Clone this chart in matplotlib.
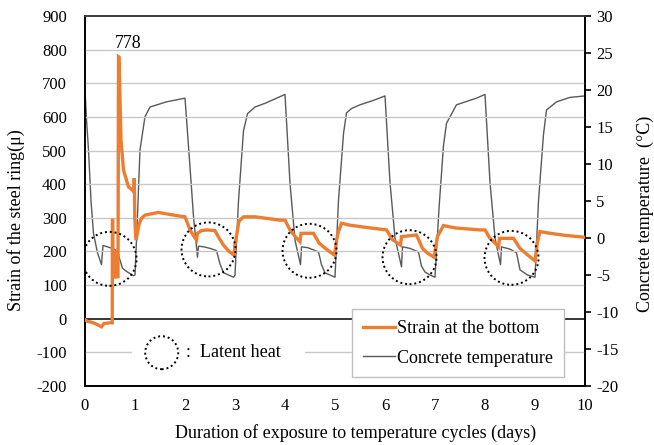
import matplotlib
matplotlib.use("Agg")
import matplotlib.pyplot as plt
from matplotlib.patches import Ellipse, Rectangle
from matplotlib.lines import Line2D

plt.rcParams['font.family'] = ['Liberation Serif', 'DejaVu Serif']
plt.rcParams['axes.unicode_minus'] = False

# ---- data ----
strain_days = [0.00, 0.05, 0.12, 0.20, 0.28, 0.33, 0.38, 0.45, 0.53, 0.545, 0.548, 0.555, 0.56,
               0.60, 0.61, 0.615, 0.66, 0.67, 0.68, 0.72, 0.77, 0.87, 0.98, 0.985, 0.995, 1.02,
               1.08, 1.13, 1.20, 1.33, 1.47, 1.70, 1.90, 2.00, 2.10, 2.18, 2.23, 2.25, 2.33, 2.45,
               2.60, 2.68, 2.77, 2.88, 2.98, 3.00, 3.08, 3.17, 3.40, 3.70, 3.90, 4.00, 4.10, 4.20,
               4.30, 4.32, 4.57, 4.68, 4.80, 4.99, 5.05, 5.13, 5.30, 5.60, 6.03, 6.15, 6.31, 6.33,
               6.63, 6.75, 6.85, 6.98, 7.05, 7.17, 7.40, 7.90, 8.00, 8.10, 8.20, 8.27, 8.29, 8.57,
               8.70, 8.85, 9.00, 9.05, 9.10, 9.30, 9.60, 10.0]
strain_vals = [-3, -8, -10, -14, -20, -24, -14, -13, -12, -12, 293, 293, 125,
               125, 200, 125, 125, 779, 778, 531, 442, 392, 378, 418, 300, 234,
               280, 299, 308, 312, 316, 310, 305, 303, 264, 245, 234, 254, 262, 264,
               262, 240, 219, 200, 189, 220, 290, 303, 303, 297, 293, 293, 264, 245,
               229, 254, 254, 225, 210, 189, 250, 284, 278, 272, 264, 235, 219, 244,
               249, 209, 195, 183, 245, 277, 270, 264, 264, 239, 225, 214, 239, 239,
               209, 190, 172, 230, 259, 254, 248, 242]

temp_days = [0.00, 0.03, 0.07, 0.12, 0.17, 0.25, 0.33, 0.36, 0.45, 0.55, 0.65, 0.70, 0.75, 0.85,
             0.97, 1.00, 1.05, 1.10, 1.20, 1.30, 1.63, 2.00, 2.10, 2.17, 2.25, 2.27, 2.38, 2.50,
             2.63, 2.70, 2.77, 2.87, 2.97, 3.00, 3.07, 3.17, 3.25, 3.40, 3.60, 3.80, 4.00, 4.10,
             4.20, 4.31, 4.33, 4.45, 4.57, 4.67, 4.73, 4.80, 4.90, 5.00, 5.07, 5.17, 5.23, 5.33,
             5.50, 5.77, 6.00, 6.10, 6.20, 6.33, 6.35, 6.50, 6.67, 6.73, 6.80, 6.90, 7.00, 7.08,
             7.17, 7.23, 7.43, 7.83, 8.00, 8.10, 8.20, 8.31, 8.33, 8.50, 8.63, 8.70, 8.85, 9.00,
             9.07, 9.17, 9.23, 9.43, 9.70, 10.0]
temp_vals = [20.0, 16.0, 11.9, 5.0, 0.6, -2.0, -3.6, -1.0, -1.2, -1.4, -1.8, -3.0, -4.1, -4.6,
             -5.1, -5.0, 3.0, 11.9, 16.4, 17.7, 18.4, 18.9, 9.6, 2.9, -2.6, -1.1, -1.2, -1.4,
             -1.7, -3.5, -4.7, -5.0, -5.3, -5.0, 5.0, 14.5, 16.8, 17.7, 18.2, 18.8, 19.4, 7.4,
             -0.3, -3.6, -1.2, -1.3, -1.6, -1.9, -3.6, -4.7, -5.0, -5.3, 5.1, 14.1, 16.9, 17.5,
             18.0, 18.6, 19.2, 7.5, 0.0, -3.9, -1.2, -1.4, -1.9, -3.8, -4.6, -5.0, -5.3, 4.0,
             12.5, 15.5, 18.0, 18.9, 19.4, 7.5, 0.0, -3.6, -1.2, -1.5, -2.0, -4.3, -5.0, -5.3,
             5.0, 14.0, 17.3, 18.4, 19.0, 19.2]

circle_days = [0.49, 2.47, 4.49, 6.49, 8.53]
circle_strain = [178, 206, 202, 183, 181]

peak_label = "778"
x_ticks = list(range(0, 11))
left_ticks = list(range(-200, 901, 100))
right_ticks = list(range(-20, 31, 5))

orange = '#ED7D31'
gray = '#595959'

fig = plt.figure(figsize=(6.54, 4.45), dpi=100)
ax = fig.add_axes([85/654, 1-386/445, 500/654, 370/445])
ax2 = ax.twinx()

ax.set_xlim(0, 10)
ax.set_ylim(-200, 900)
ax2.set_ylim(-20, 30)
ax.set_xticks(x_ticks)
ax.set_yticks(left_ticks)
ax2.set_yticks(right_ticks)

for y in left_ticks:
    if y == 0:
        ax.axhline(y, color='black', lw=1.1, zorder=1)
    elif y not in (-200, 900):
        ax.axhline(y, color='#c8c8c8', lw=1.0, zorder=0.5)

ax2.plot(temp_days, temp_vals, color=gray, lw=1.0, zorder=2)
ax.plot(strain_days, strain_vals, color=orange, lw=2.4, zorder=3, solid_joinstyle='miter')

ax.set_zorder(ax2.get_zorder() + 1)
ax.patch.set_visible(False)

for cd, cs in zip(circle_days, circle_strain):
    e = Ellipse((cd, cs), width=54/50, height=54/(370/1100), fill=False,
                edgecolor='black', lw=1.4, linestyle=(0, (1, 1.5)), zorder=4)
    ax.add_patch(e)

ax.text(0.86, 818, peak_label, ha='center', va='center', fontsize=13, zorder=5)

# latent heat annotation
ax.add_patch(Rectangle((0.94, -135), 3.46, 70, facecolor='white', edgecolor='none', zorder=3.5))
ax.add_patch(Ellipse((1.534, -101), width=33/50, height=33/(370/1100), fill=False,
                     edgecolor='black', lw=1.4, linestyle=(0, (1, 1.5)), zorder=4))
ax.text(2.03, -101, ":  Latent heat", ha='left', va='center', fontsize=13, zorder=5)

handles = [Line2D([], [], color=orange, lw=2.4), Line2D([], [], color=gray, lw=1.0)]
leg = ax.legend(handles, ["Strain at the bottom", "Concrete temperature"],
                loc='upper right', bbox_to_anchor=(0.958, 0.208), fontsize=13,
                frameon=True, fancybox=False, framealpha=1, edgecolor='#bfbfbf',
                handlelength=1.8, handletextpad=0.1, borderpad=0.6, labelspacing=0.7,
                borderaxespad=0)
leg.get_frame().set_linewidth(1.0)
leg.set_zorder(6)

for a in (ax, ax2):
    a.spines['top'].set_color('#404040')
    a.spines['left'].set_color('black')
    a.spines['right'].set_color('black')
    a.spines['bottom'].set_color('black')
    for s in a.spines.values():
        s.set_linewidth(1.2)

ax.tick_params(axis='y', length=0, labelsize=12, pad=13)
ax.tick_params(axis='x', length=0, labelsize=12, pad=9)
ax2.tick_params(axis='y', direction='out', length=4, width=1.2, labelsize=12, pad=4)

ax.set_xlabel("Duration of exposure to temperature cycles (days)", fontsize=13)
ax.set_ylabel("Strain of the steel ring(μ)", fontsize=13)
ax2.set_ylabel("Concrete temperature  (°C)", fontsize=13)
ax.xaxis.set_label_coords(0.542, -0.103)
ax.yaxis.set_label_coords(-0.12, 0.449)
ax2.yaxis.set_label_coords(1.104, 0.465)

fig.savefig("out.png", dpi=100)
